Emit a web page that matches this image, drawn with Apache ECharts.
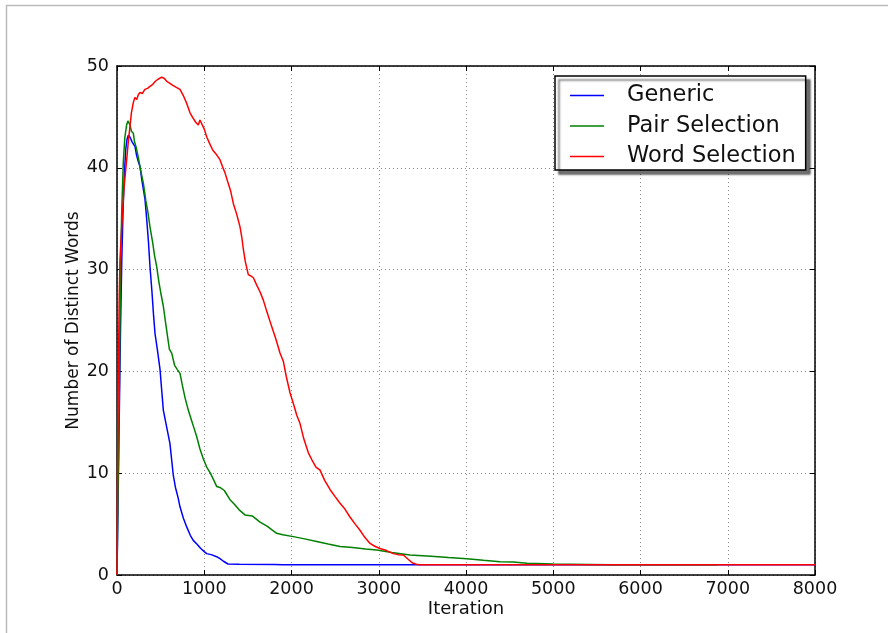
<!DOCTYPE html>
<html>
<head>
<meta charset="utf-8">
<script src="https://cdn.jsdelivr.net/npm/echarts@6/dist/echarts.min.js"></script>
<style>
html,body{margin:0;padding:0;background:#fff;}
#chart{width:888px;height:633px;}
</style>
</head>
<body>
<div id="chart"></div>
<script>
const seriesNames = ['Generic', 'Pair Selection', 'Word Selection'];
const xTicks = [0, 1000, 2000, 3000, 4000, 5000, 6000, 7000, 8000];
const yTicks = [0, 10, 20, 30, 40, 50];

const genericData = [[0,0],[10,6],[25,15],[40,24],[55,31],[70,36],[85,39.5],[100,41.8],[115,42.8],[130,43.2],[150,43.0],[170,42.6],[190,42.3],[206,42.1],[225,41.2],[245,40.6],[264,40.1],[285,38.8],[300,38.0],[321,36.9],[340,35.0],[360,32.8],[378,30.3],[400,27.9],[420,25.4],[436,23.7],[465,22.0],[493,20.2],[510,18.4],[531,16.2],[570,14.5],[607,12.9],[645,9.8],[670,8.6],[700,7.6],[722,6.7],[760,5.6],[800,4.7],[840,3.9],[874,3.4],[920,3.0],[960,2.6],[1000,2.3],[1028,2.1],[1080,2.0],[1142,1.8],[1180,1.6],[1220,1.35],[1272,1.08],[1400,1.05],[1800,1.03],[1900,1.0],[8000,1.0]];

const pairData = [[0,0],[10,7],[25,17],[42,31],[55,36],[72,40.5],[90,43],[110,44.2],[125,44.6],[138,44.6],[150,44.2],[165,43.6],[187,43.4],[200,42.6],[220,42.0],[245,41.0],[270,39.8],[302,38.5],[330,36.8],[355,35.6],[378,34.2],[410,32.6],[430,31.4],[455,30.3],[480,28.8],[500,27.8],[531,26.4],[560,24.6],[580,23.4],[600,22.2],[627,21.8],[660,20.6],[690,20.2],[722,19.8],[750,18.6],[780,17.4],[817,16.2],[850,15.3],[880,14.5],[913,13.6],[950,12.4],[990,11.4],[1028,10.6],[1070,10.0],[1110,9.3],[1142,8.7],[1180,8.6],[1230,8.3],[1295,7.4],[1340,7.0],[1400,6.4],[1467,5.9],[1550,5.8],[1639,5.2],[1720,4.8],[1780,4.4],[1830,4.1],[1900,3.95],[2021,3.77],[2150,3.55],[2289,3.3],[2420,3.05],[2556,2.8],[2700,2.7],[2850,2.55],[2976,2.46],[3150,2.2],[3358,1.97],[3600,1.85],[3800,1.72],[4008,1.6],[4200,1.45],[4390,1.31],[4542,1.28],[4700,1.15],[5000,1.08],[5400,1.04],[5688,1.01],[6880,1.0]];

const wordData = [[0,0],[8,12],[15,20],[25,27],[34,31],[54,34.2],[80,38],[111,40.8],[130,42.6],[149,44.1],[165,45.4],[187,46.4],[205,46.9],[226,46.7],[245,47.2],[264,47.4],[290,47.3],[320,47.7],[350,47.8],[378,48.0],[410,48.2],[440,48.5],[470,48.7],[512,48.9],[540,48.8],[570,48.5],[607,48.3],[640,48.1],[680,47.9],[722,47.7],[760,47.1],[800,46.3],[837,45.4],[870,44.9],[900,44.5],[932,44.2],[951,44.7],[970,44.6],[1000,43.8],[1030,43.0],[1066,42.3],[1100,41.7],[1140,41.3],[1180,40.8],[1210,40.1],[1238,39.5],[1270,38.6],[1300,37.8],[1333,36.5],[1370,35.5],[1410,34.2],[1430,33.2],[1448,32.0],[1470,30.8],[1505,29.5],[1530,29.4],[1563,29.2],[1600,28.5],[1640,27.8],[1677,27.0],[1720,25.8],[1773,24.4],[1820,23.2],[1868,21.8],[1906,21.0],[1940,19.5],[1983,17.9],[2030,16.6],[2060,15.7],[2097,14.9],[2140,13.4],[2193,12.0],[2240,11.2],[2280,10.6],[2327,10.3],[2380,9.3],[2441,8.4],[2500,7.7],[2556,7.05],[2610,6.5],[2670,5.7],[2730,5.0],[2785,4.4],[2840,3.7],[2900,3.1],[2960,2.8],[3014,2.6],[3090,2.4],[3167,2.1],[3220,2.0],[3282,1.97],[3330,1.6],[3370,1.3],[3396,1.15],[3430,1.05],[3460,1.0],[8000,1.0]];

const colors = ['#0000ff', '#008000', '#ff0000'];
const font = 'DejaVu Sans';

const chart = echarts.init(document.getElementById('chart'), null, {renderer: 'canvas'});

const axisCommon = {
  axisLine: {show: true, onZero: false, lineStyle: {color: '#000', width: 1.5}},
  axisTick: {show: true, inside: true, length: 5, lineStyle: {color: '#000', width: 1}},
};

chart.setOption({
  animation: false,
  backgroundColor: '#fff',
  graphic: [{
    type: 'polyline',
    shape: {points: [[6.5, 640], [6.5, 5.5], [900, 5.5]]},
    style: {stroke: '#bbbbbb', lineWidth: 1.5, fill: null},
    silent: true
  }],
  grid: {left: 117, top: 66, right: 73, bottom: 58, containLabel: false},
  legend: {
    orient: 'vertical',
    left: 555,
    top: 76,
    data: seriesNames,
    icon: 'rect',
    itemWidth: 34,
    itemHeight: 1.5,
    itemGap: 5.5,
    padding: [7, 10, 1, 15],
    backgroundColor: '#fff',
    borderColor: '#000',
    borderWidth: 1.5,
    borderRadius: 0,
    shadowColor: 'rgba(0,0,0,0.55)',
    shadowBlur: 2,
    shadowOffsetX: 4,
    shadowOffsetY: 4,
    textStyle: {fontFamily: font, fontSize: 22.5, color: '#111', lineHeight: 25, padding: [0, 0, 0, 18]}
  },
  xAxis: [{
    type: 'value',
    position: 'bottom',
    min: xTicks[0], max: xTicks[xTicks.length - 1], interval: 1000,
    name: 'Iteration',
    nameLocation: 'middle',
    nameGap: 25,
    nameMoveOverlap: false,
    nameTextStyle: {fontFamily: font, fontSize: 18, color: '#111'},
    ...axisCommon,
    axisLabel: {fontFamily: font, fontSize: 17.5, color: '#111', margin: 5, formatter: v => String(v)},
    splitLine: {show: true, lineStyle: {color: '#888', width: 1, type: [1, 3]}}
  }, {
    type: 'value',
    position: 'top',
    min: xTicks[0], max: xTicks[xTicks.length - 1], interval: 1000,
    ...axisCommon,
    axisLabel: {show: false},
    splitLine: {show: false}
  }],
  yAxis: [{
    type: 'value',
    position: 'left',
    min: yTicks[0], max: yTicks[yTicks.length - 1], interval: 10,
    name: 'Number of Distinct Words',
    nameLocation: 'middle',
    nameGap: 35,
    nameMoveOverlap: false,
    nameTextStyle: {fontFamily: font, fontSize: 17, color: '#111'},
    ...axisCommon,
    axisLabel: {fontFamily: font, fontSize: 17.5, color: '#111', margin: 8, formatter: v => String(v)},
    splitLine: {show: true, lineStyle: {color: '#888', width: 1, type: [1, 3]}}
  }, {
    type: 'value',
    position: 'right',
    min: yTicks[0], max: yTicks[yTicks.length - 1], interval: 10,
    ...axisCommon,
    axisLabel: {show: false},
    splitLine: {show: false}
  }],
  series: [genericData, pairData, wordData].map((d, i) => ({
    name: seriesNames[i],
    type: 'line',
    data: d,
    showSymbol: false,
    symbol: 'none',
    color: colors[i],
    lineStyle: {color: colors[i], width: 1.5},
    emphasis: {disabled: true},
    z: 2 + i
  }))
});
</script>
</body>
</html>
